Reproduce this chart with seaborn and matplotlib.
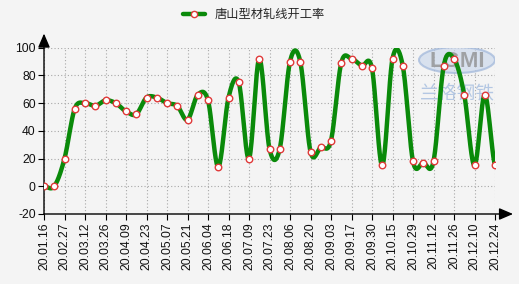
import numpy as np
import pandas as pd
import matplotlib
matplotlib.use("Agg")
import matplotlib.pyplot as plt
from matplotlib.patches import Ellipse
from matplotlib.lines import Line2D
import seaborn as sns

dates = ["20.01.16", "20.02.20", "20.02.27", "20.03.05", "20.03.12", "20.03.19",
         "20.03.26", "20.04.02", "20.04.09", "20.04.16", "20.04.23", "20.04.30",
         "20.05.07", "20.05.14", "20.05.21", "20.05.28", "20.06.04", "20.06.11",
         "20.06.18", "20.07.02", "20.07.09", "20.07.16", "20.07.23", "20.07.30",
         "20.08.06", "20.08.13", "20.08.20", "20.08.27", "20.09.03", "20.09.10",
         "20.09.17", "20.09.24", "20.09.30", "20.10.09", "20.10.15", "20.10.22",
         "20.10.29", "20.11.05", "20.11.12", "20.11.19", "20.11.26", "20.12.03",
         "20.12.10", "20.12.17", "20.12.24"]
rate = [0, 0, 20, 56, 60, 58, 62, 60, 54, 52, 64, 64, 60, 58, 48, 66, 62, 14,
        64, 75, 20, 92, 27, 27, 90, 90, 25, 28, 33, 89, 92, 87, 85, 15, 92, 87,
        18, 17, 18, 87, 92, 66, 15, 66, 15]
series_name = "唐山型材轧线开工率"
yticks = [-20, 0, 20, 40, 60, 80, 100]

sns.set_theme(style="white")
plt.rcParams['font.family'] = ['Liberation Sans', 'DejaVu Sans']

bg = "#f4f4f4"
fig = plt.figure(figsize=(5.19, 2.84), dpi=100, facecolor=bg)
W, H = 519, 284
ax = fig.add_axes([44 / W, (H - 214) / H, 451 / W, (214 - 47.7) / H])
ax.set_facecolor(bg)

# Catmull-Rom smoothing of the drawn line
x = np.arange(len(rate), dtype=float)
y = np.array(rate, dtype=float)
P = np.concatenate([[y[0]], y, [y[-1]]])
xs, ys = [], []
for i in range(len(y) - 1):
    p0, p1, p2, p3 = P[i], P[i + 1], P[i + 2], P[i + 3]
    m1 = (p2 - p0) / 2
    m2 = (p3 - p1) / 2
    t = np.linspace(0, 1, 20, endpoint=(i == len(y) - 2))
    h00 = 2 * t**3 - 3 * t**2 + 1
    h10 = t**3 - 2 * t**2 + t
    h01 = -2 * t**3 + 3 * t**2
    h11 = t**3 - t**2
    ys.append(h00 * p1 + h10 * m1 + h01 * p2 + h11 * m2)
    xs.append(x[i] + t)
smooth = pd.DataFrame({"x": np.concatenate(xs), "y": np.concatenate(ys)})
pts = pd.DataFrame({"x": x, "y": y})

# watermark (behind data)
e = Ellipse((457 / W, 1 - 60 / H), 76 / W, 26 / H, transform=fig.transFigure,
            facecolor="#cdd9ec", edgecolor="#9fb6da", lw=1.5, alpha=0.7, zorder=1)
ax.add_artist(e)
ax.text(457 / W, 1 - 62 / H, "LGMI", transform=fig.transFigure, ha="center",
        va="center", fontsize=16, color="#8c8c8c", alpha=0.75,
        fontweight="bold", zorder=1.5)
ax.text(457 / W, 1 - 93 / H, "兰格钢铁", transform=fig.transFigure, ha="center",
        va="center", fontsize=13.5, color="#a9c0e0", alpha=0.85,
        family=["Noto Sans CJK SC", "DejaVu Sans"], zorder=1.5)

green = "#0a8a0a"
sns.lineplot(data=smooth, x="x", y="y", ax=ax, color=green, lw=3.2,
             sort=False, zorder=3, legend=False)
sns.scatterplot(data=pts, x="x", y="y", ax=ax, s=22, color="white",
                edgecolor="#e03a3a", linewidth=1.0, zorder=4, legend=False)

ax.set_xlim(0, len(rate) - 1)
ax.set_ylim(-20, 100)
ax.set_xticks(x[::2])
ax.set_xticklabels(dates[::2], rotation=90, fontsize=8.7, color="#111111")
ax.set_yticks(yticks)
ax.set_yticklabels([str(v) for v in yticks], fontsize=8.7, color="#111111")
ax.set_xlabel("")
ax.set_ylabel("")
ax.tick_params(axis="both", direction="out", length=4, width=0.8, color="black", pad=2)
ax.tick_params(axis="x", bottom=True)
ax.tick_params(axis="y", left=True)
ax.grid(True, color="#a8a8a8", linestyle=(0, (1, 2)), linewidth=0.8)
ax.set_axisbelow(True)
for s in ax.spines.values():
    s.set_visible(False)

# axes with arrows
ax.annotate("", xy=(0, 1.085), xytext=(0, 0), xycoords="axes fraction",
            arrowprops=dict(arrowstyle="-|>,head_length=0.7,head_width=0.3",
                            color="black", lw=1.0, shrinkA=0, shrinkB=0),
            annotation_clip=False)
ax.annotate("", xy=(1.04, 0), xytext=(0, 0), xycoords="axes fraction",
            arrowprops=dict(arrowstyle="-|>,head_length=0.7,head_width=0.3",
                            color="black", lw=1.0, shrinkA=0, shrinkB=0),
            annotation_clip=False)

handle = Line2D([], [], color=green, lw=3.2, marker="o", markersize=4.5,
                markerfacecolor="white", markeredgecolor="#e03a3a",
                markeredgewidth=1.0)
leg = fig.legend([handle], [series_name], loc="upper center",
                 bbox_to_anchor=(0.49, 1.01), frameon=False, handlelength=1.8,
                 prop={"family": ["Noto Sans CJK SC", "DejaVu Sans"], "size": 8.8})

fig.savefig("out.png", dpi=100, facecolor=bg)
